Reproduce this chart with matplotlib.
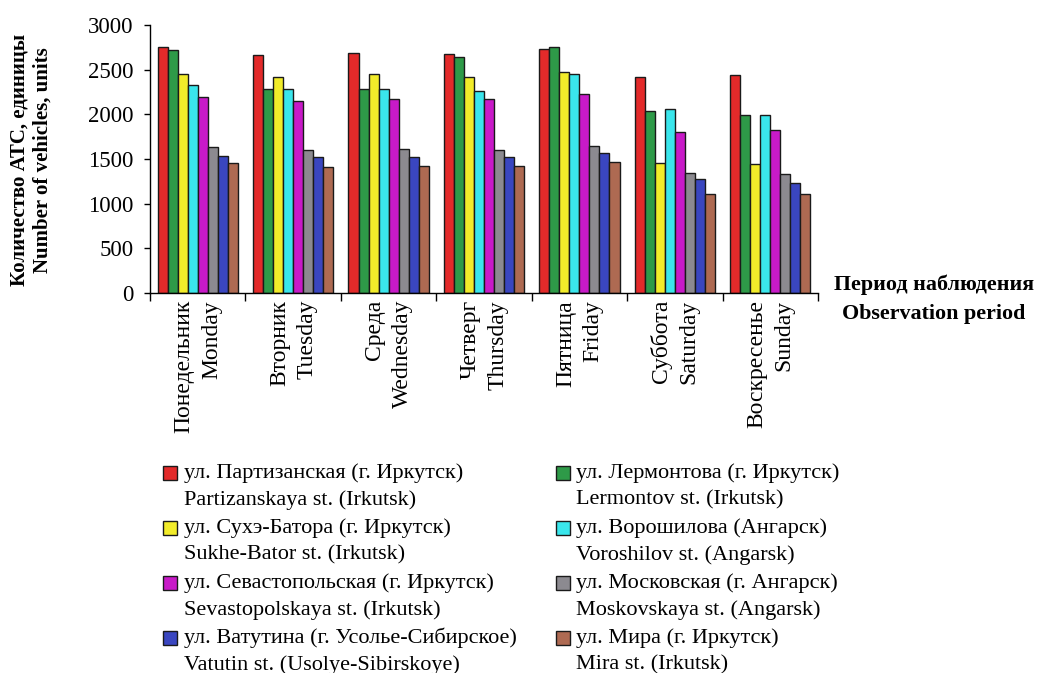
import numpy as np
import matplotlib
matplotlib.use("Agg")
import matplotlib.pyplot as plt
from matplotlib.patches import Rectangle

plt.rcParams["font.family"] = ["Liberation Serif", "DejaVu Serif"]

days_ru = ["Понедельник", "Вторник", "Среда", "Четверг", "Пятница", "Суббота", "Воскресенье"]
days_en = ["Monday", "Tuesday", "Wednesday", "Thursday", "Friday", "Saturday", "Sunday"]

streets_ru = [
    "ул. Партизанская (г. Иркутск)",
    "ул. Лермонтова (г. Иркутск)",
    "ул. Сухэ-Батора (г. Иркутск)",
    "ул. Ворошилова (Ангарск)",
    "ул. Севастопольская (г. Иркутск)",
    "ул. Московская (г. Ангарск)",
    "ул. Ватутина (г. Усолье-Сибирское)",
    "ул. Мира (г. Иркутск)",
]
streets_en = [
    "Partizanskaya st. (Irkutsk)",
    "Lermontov st. (Irkutsk)",
    "Sukhe-Bator st. (Irkutsk)",
    "Voroshilov st. (Angarsk)",
    "Sevastopolskaya st. (Irkutsk)",
    "Moskovskaya st. (Angarsk)",
    "Vatutin st. (Usolye-Sibirskoye)",
    "Mira st. (Irkutsk)",
]

# vehicles per day, one list per street (Mon..Sun)
partizanskaya = [2750, 2660, 2690, 2675, 2735, 2417, 2436]
lermontov = [2720, 2279, 2279, 2641, 2750, 2040, 1991]
sukhe_bator = [2451, 2421, 2451, 2417, 2477, 1450, 1442]
voroshilov = [2328, 2279, 2279, 2260, 2451, 2055, 1991]
sevastopolskaya = [2197, 2152, 2167, 2167, 2227, 1801, 1823]
moskovskaya = [1629, 1599, 1614, 1599, 1644, 1345, 1330]
vatutin = [1535, 1520, 1520, 1520, 1565, 1281, 1233]
mira = [1453, 1412, 1427, 1427, 1472, 1110, 1110]

series = [partizanskaya, lermontov, sukhe_bator, voroshilov,
          sevastopolskaya, moskovskaya, vatutin, mira]
colors = ["#e32a2a", "#2e9a48", "#f2ec2a", "#3ae6ec",
          "#c81ac8", "#8c8a90", "#3a46c0", "#ae6a52"]

W, H = 1037, 673
fig = plt.figure(figsize=(W / 100, H / 100), dpi=100)
ax = fig.add_axes([150 / W, 1 - 293 / H, 668 / W, 268 / H])

x = np.arange(len(days_ru))
bw = 0.105
n = len(series)
for k, (vals, c) in enumerate(zip(series, colors)):
    ax.bar(x + (k - (n - 1) / 2) * bw, vals, width=bw, color=c,
           edgecolor="#1a1a1a", linewidth=1.0, zorder=2)

ax.set_xlim(-0.5, len(days_ru) - 0.5)
ax.set_ylim(0, 3000)
ax.set_yticks(np.arange(0, 3001, 500))
ax.set_xticks(np.arange(-0.5, len(days_ru), 1.0))
ax.set_xticklabels([])
ax.tick_params(axis="y", direction="out", length=4, width=1, labelsize=16.5, pad=8)
ax.tick_params(axis="x", direction="out", length=6, width=1)
for s in ["top", "right"]:
    ax.spines[s].set_visible(False)
for s in ["left", "bottom"]:
    ax.spines[s].set_linewidth(1.0)

# two-line rotated day names below each group
for i in range(len(days_ru)):
    ax.annotate(days_ru[i] + "\n" + days_en[i], xy=(i, 0),
                xycoords=("data", "axes fraction"),
                xytext=(0, -5), textcoords="offset points",
                rotation=90, ha="center", va="top", multialignment="right",
                fontsize=17, linespacing=1.4)

fig.text(31 / W, 1 - 160 / H, "Количество АТС, единицы\nNumber of vehicles, units",
         rotation=90, ha="center", va="center", multialignment="center",
         fontsize=15, fontweight="bold", linespacing=1.25)

fig.text(934 / W, 1 - 299 / H, "Период наблюдения\nObservation period",
         ha="center", va="center", multialignment="center",
         fontsize=15.8, fontweight="bold", linespacing=1.6)

# legend: two columns, each entry a swatch with a Russian and an English line
col_patch_x = [163, 556]
col_text_x = [184, 576]
row_y = [473, 528, 583, 638]
line_gap = 27
sq = 14
for k in range(n):
    col = k % 2
    row = k // 2
    yc = row_y[row]
    fig.add_artist(Rectangle((col_patch_x[col] / W, 1 - (yc + sq / 2) / H),
                             sq / W, sq / H, transform=fig.transFigure,
                             facecolor=colors[k], edgecolor="#1a1a1a", linewidth=1.0))
    fig.text(col_text_x[col] / W, 1 - yc / H, streets_ru[k],
             ha="left", va="center", fontsize=16)
    fig.text(col_text_x[col] / W, 1 - (yc + line_gap) / H, streets_en[k],
             ha="left", va="center", fontsize=16)

fig.savefig("out.png", dpi=100)
